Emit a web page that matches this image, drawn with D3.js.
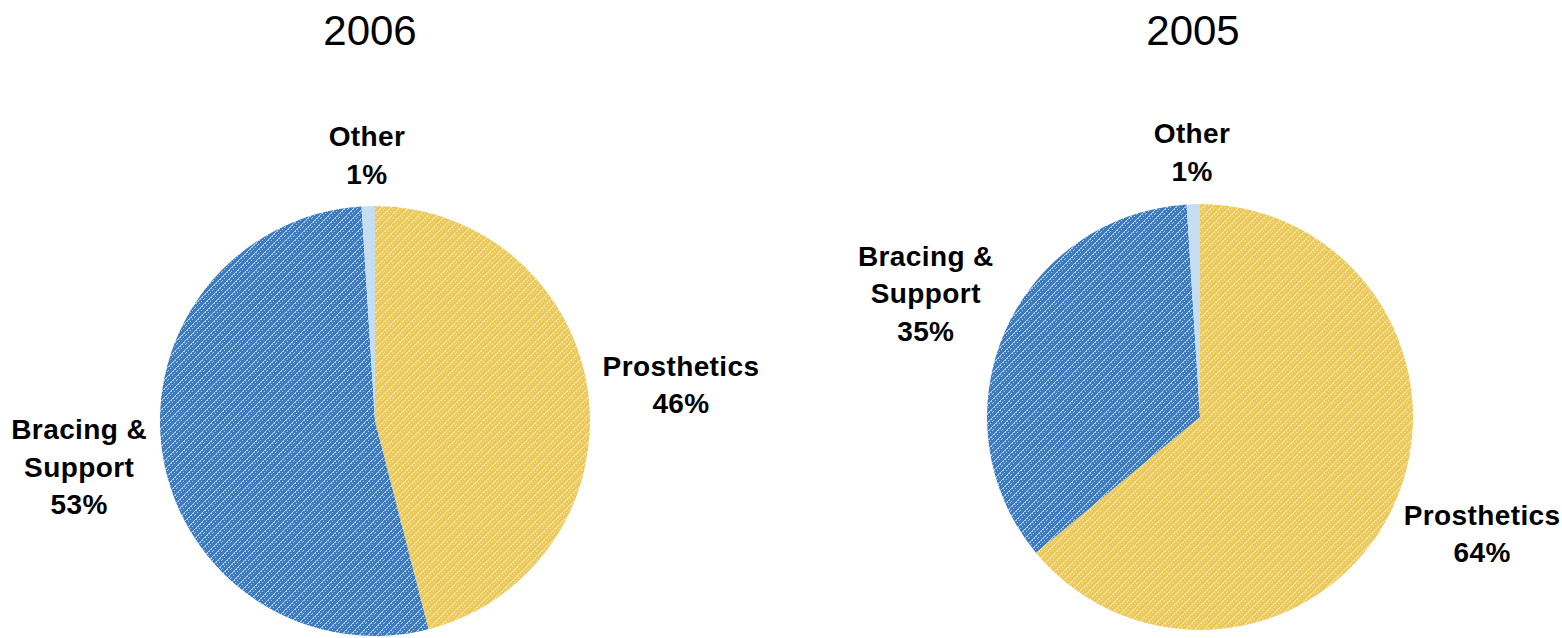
<!DOCTYPE html>
<html>
<head>
<meta charset="utf-8">
<script src="https://cdn.jsdelivr.net/npm/d3@7"></script>
<style>
  html, body { margin: 0; padding: 0; background: #ffffff; }
  svg { display: block; }
  text { font-family: "Liberation Sans", Arial, Helvetica, sans-serif; fill: #000; }
</style>
</head>
<body>
<svg id="chart" width="1562" height="638"></svg>
<script>
// ---- data ----
const categories = ["Prosthetics", "Bracing & Support", "Other"];
const categoryLines = [["Prosthetics"], ["Bracing &", "Support"], ["Other"]];
const years = ["2006", "2005"];
const values2006 = [46, 53, 1];
const values2005 = [64, 35, 1];
const seriesValues = [values2006, values2005];

// ---- layout / style ----
const layout = [
  { cx: 375, cy: 421, r: 215, titleX: 370, nudge: [[2, 2], [0, -1], [0, -11]] },
  { cx: 1200, cy: 417, r: 213, titleX: 1193, nudge: [[5, -14], [5, -3], [0, -12]] }
];
const baseColors = ["#ebc95b", "#3b7bbe", "#c6dcef"];
const lightColors = ["#f6e4a6", "#a9c8ea", null];

const svg = d3.select("#chart");
const defs = svg.append("defs");

// textured fills (approximation of the office "weave" pattern)
const tile = 9;
const pixels = [];
for (let i = 0; i < tile; i++) pixels.push([i, tile - 1 - i]);
[[1, 8], [3, 6], [5, 4], [7, 2]].forEach(p => pixels.push(p));
[[0, 3], [2, 1], [4, 8], [6, 6], [8, 4]].forEach(p => pixels.push(p));

const fills = baseColors.map((c, i) => {
  if (!lightColors[i]) return c;
  const id = "pat" + i;
  const p = defs.append("pattern")
    .attr("id", id)
    .attr("patternUnits", "userSpaceOnUse")
    .attr("width", tile).attr("height", tile);
  p.append("rect").attr("width", tile).attr("height", tile).attr("fill", c);
  p.selectAll("rect.px").data(pixels).join("rect")
    .attr("class", "px")
    .attr("x", d => d[0]).attr("y", d => d[1])
    .attr("width", 1).attr("height", 1)
    .attr("fill", lightColors[i]);
  return `url(#${id})`;
});

const color = d3.scaleOrdinal().domain(categories).range(fills);
const pie = d3.pie().sort(null).value(d => d.value).startAngle(0).endAngle(2 * Math.PI);

const fontSize = 28, lineH = 37.5, capH = 0.716 * fontSize, gap = 10;

years.forEach((year, k) => {
  const L = layout[k];
  const data = categories.map((c, i) => ({ cat: c, lines: categoryLines[i], value: seriesValues[k][i] }));
  const arcs = pie(data);
  const arc = d3.arc().innerRadius(0).outerRadius(L.r);

  const g = svg.append("g").attr("transform", `translate(${L.cx},${L.cy})`);
  g.selectAll("path").data(arcs).join("path")
    .attr("d", arc)
    .attr("fill", d => color(d.data.cat));

  // title
  svg.append("text")
    .attr("x", L.titleX).attr("y", 45)
    .attr("text-anchor", "middle")
    .style("font-size", "42px")
    .text(year);

  // labels (outside end, positioned along the slice's mid angle)
  arcs.forEach((d, i) => {
    const lines = d.data.lines.concat([d.data.value + "%"]);
    const t = g.append("text")
      .attr("text-anchor", "middle")
      .style("font-size", fontSize + "px")
      .style("font-weight", "bold")
      .style("letter-spacing", "0.4px");
    lines.forEach((ln, j) => {
      t.append("tspan").attr("x", 0).attr("y", j * lineH).text(ln);
    });
    const bb = t.node().getBBox();
    const halfW = bb.width / 2;
    const blockTop = -capH, blockBottom = (lines.length - 1) * lineH;
    const halfH = (blockBottom - blockTop) / 2;
    const a = (d.startAngle + d.endAngle) / 2;
    const dist = L.r + gap + Math.abs(Math.sin(a)) * halfW + Math.abs(Math.cos(a)) * halfH;
    const x = dist * Math.sin(a) + L.nudge[i][0];
    const y = -dist * Math.cos(a) + L.nudge[i][1];
    const y0 = y - (blockTop + blockBottom) / 2;
    t.attr("transform", `translate(${x},${y0})`);
  });
});
</script>
</body>
</html>
